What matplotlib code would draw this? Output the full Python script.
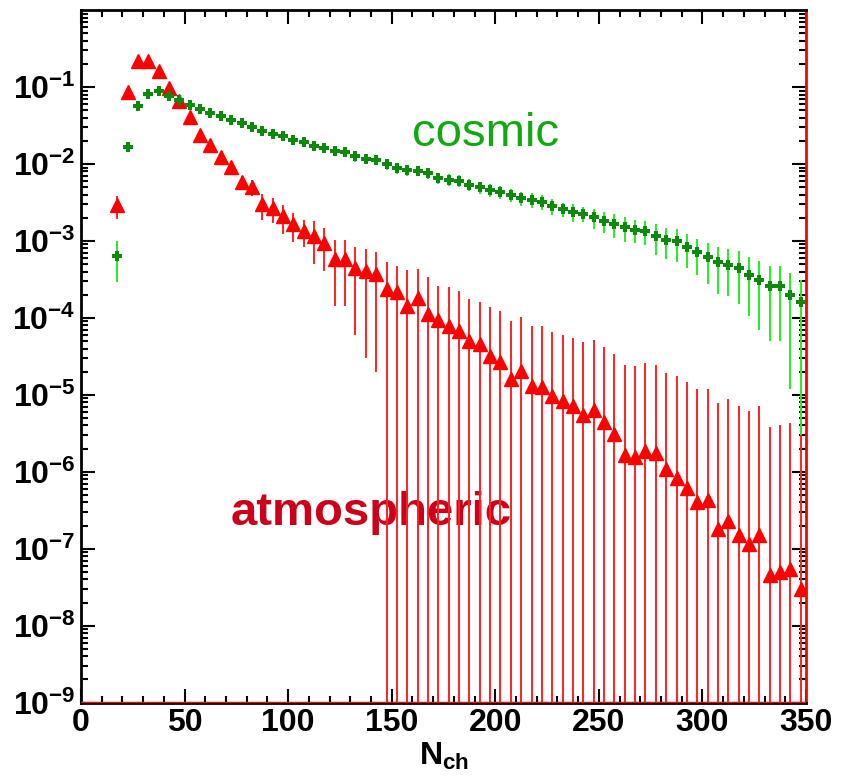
import numpy as np
import matplotlib
matplotlib.use("Agg")
import matplotlib.pyplot as plt
from matplotlib.ticker import FixedLocator, LogLocator, NullFormatter, MultipleLocator

# bin centres, 5 wide
nch = np.arange(17.5, 350, 5.0)

cosmic = [6.4e-4, 0.0166, 0.0566, 0.0818, 0.0877, 0.0764, 0.0673, 0.0588, 0.0522, 0.0462,
          0.0419, 0.0378, 0.0340, 0.0300, 0.0267, 0.0247, 0.0230, 0.0208, 0.0192, 0.0171,
          0.0162, 0.0147, 0.0143, 0.0126, 0.0117, 0.0113, 0.0100, 0.00889, 0.00837, 0.0082,
          0.00766, 0.00659, 0.00626, 0.00608, 0.00535, 0.00496, 0.00460, 0.00437, 0.0040, 0.00359,
          0.00341, 0.00324, 0.00287, 0.0026, 0.0024, 0.00224, 0.00203, 0.00183, 0.00166, 0.0015,
          0.0014, 0.00136, 0.00115, 0.00104, 9.9e-4, 8.4e-4, 7.1e-4, 6.1e-4, 5.26e-4, 4.9e-4,
          4.4e-4, 3.6e-4, 3.1e-4, 2.6e-4, 2.6e-4, 1.98e-4, 1.59e-4]
cosmic_err = [3.5e-4, 8e-4, 2.5e-3, 3.5e-3, 4e-3, 4e-3, 4e-3, 4e-3, 4e-3, 3.8e-3,
              3.6e-3, 3.4e-3, 3.2e-3, 3.0e-3, 2.9e-3, 2.8e-3, 2.7e-3, 2.6e-3, 2.5e-3, 2.3e-3,
              2.2e-3, 2.1e-3, 2.0e-3, 1.9e-3, 1.8e-3, 1.7e-3, 1.6e-3, 1.5e-3, 1.4e-3, 1.3e-3,
              1.25e-3, 1.15e-3, 1.1e-3, 1.05e-3, 0.95e-3, 0.88e-3, 0.85e-3, 0.82e-3, 0.8e-3, 0.78e-3,
              0.76e-3, 0.75e-3, 0.68e-3, 0.55e-3, 0.64e-3, 0.5e-3, 0.6e-3, 0.57e-3, 0.58e-3, 0.52e-3,
              0.45e-3, 0.47e-3, 0.5e-3, 0.45e-3, 0.45e-3, 0.4e-3, 0.35e-3, 0.33e-3, 0.32e-3, 0.3e-3,
              0.29e-3, 0.255e-3, 0.24e-3, 0.21e-3, 0.21e-3, 0.186e-3, 0.156e-3]

atmos = [2.9e-3, 0.086, 0.22, 0.22, 0.164, 0.097, 0.065, 0.041, 0.024, 0.0178,
         0.0123, 0.0091, 0.0058, 0.0050, 0.0030, 0.00266, 2.09e-3, 1.66e-3, 1.36e-3, 1.17e-3,
         9.4e-4, 5.8e-4, 5.8e-4, 4.5e-4, 4.1e-4, 3.7e-4, 2.4e-4, 2.14e-4, 1.43e-4, 1.81e-4,
         1.12e-4, 9.3e-5, 7.9e-5, 6.8e-5, 5.0e-5, 4.6e-5, 3.2e-5, 2.7e-5, 1.62e-5, 2.04e-5,
         1.30e-5, 1.28e-5, 9.6e-6, 8.3e-6, 7.1e-6, 5.5e-6, 6.3e-6, 4.5e-6, 3.06e-6, 1.63e-6,
         1.57e-6, 1.85e-6, 1.73e-6, 1.09e-6, 8.4e-7, 6.1e-7, 4.07e-7, 4.27e-7, 1.81e-7, 2.28e-7,
         1.49e-7, 1.16e-7, 1.53e-7, 4.5e-8, 5.0e-8, 5.5e-8, 3.0e-8]
atmos_err = [0.98e-3, 2e-3, 4e-3, 4e-3, 3.5e-3, 2.5e-3, 2e-3, 1.6e-3, 1.4e-3, 1.3e-3,
             1.2e-3, 1.1e-3, 1.1e-3, 1.2e-3, 1.1e-3, 0.93e-3, 0.85e-3, 0.68e-3, 0.52e-3, 0.67e-3,
             0.53e-3, 0.435e-3, 0.435e-3, 0.39e-3, 0.38e-3, 0.35e-3, 0.30e-3, 0.26e-3, 0.28e-3, 0.25e-3,
             0.224e-3, 0.168e-3, 0.17e-3, 0.157e-3, 0.125e-3, 0.117e-3, 0.106e-3, 0.096e-3, 0.075e-3, 0.081e-3,
             0.065e-3, 0.065e-3, 5.7e-5, 5.2e-5, 4.7e-5, 4.3e-5, 4.5e-5, 3.7e-5, 3.1e-5, 2.3e-5,
             2.2e-5, 2.4e-5, 2.27e-5, 1.8e-5, 1.65e-5, 1.43e-5, 1.16e-5, 1.16e-5, 7.7e-6, 8.5e-6,
             7.0e-6, 6.0e-6, 7.0e-6, 3.8e-6, 4.0e-6, 4.3e-6, 4.3e-6]

xticks = [0, 50, 100, 150, 200, 250, 300, 350]
ydecades = list(range(-9, 0))

plt.rcParams['font.family'] = ['Liberation Sans', 'DejaVu Sans']
plt.rcParams['mathtext.fontset'] = 'custom'
plt.rcParams['mathtext.rm'] = 'Liberation Sans:bold'
plt.rcParams['mathtext.it'] = 'Liberation Sans:bold'
plt.rcParams['mathtext.bf'] = 'Liberation Sans:bold'

fig = plt.figure(figsize=(8.48, 7.79), dpi=100)
ax = fig.add_axes([0.0955, 0.098, 0.855, 0.889])
ax.set_yscale('log', nonpositive='clip')

ax.text(72, 2.06e-7, 'atmospheric', color='#cc0018', fontsize=34, fontweight='bold',
        ha='left', va='baseline', zorder=1)
ax.text(159.7, 0.0174, 'cosmic', color='#10aa10', fontsize=34,
        ha='left', va='baseline', zorder=1)

ax.errorbar(nch, atmos, yerr=atmos_err, fmt='^', color='#ff0000', ecolor='#ff2020',
            markersize=10, elinewidth=1.4, capsize=0, zorder=3)
ax.errorbar(nch, cosmic, yerr=cosmic_err, fmt='P', color='#0b8a0b', ecolor='#22ee22',
            markersize=7, markeredgewidth=0, elinewidth=1.4, capsize=0, zorder=4)

ax.axhline(1e-9, color='#ff0000', lw=2.5, zorder=5)
ax.set_xlim(0, 350)
ax.set_ylim(1e-9, 1)

ax.xaxis.set_major_locator(FixedLocator(xticks))
ax.xaxis.set_minor_locator(MultipleLocator(10))
ax.set_xticklabels([str(t) for t in xticks])
ax.yaxis.set_major_locator(FixedLocator([10.0 ** d for d in ydecades]))
ax.set_yticklabels([r'$10^{%d}$' % d for d in ydecades])
ax.yaxis.set_minor_locator(LogLocator(base=10, subs=np.arange(2, 10), numticks=20))
ax.yaxis.set_minor_formatter(NullFormatter())

ax.tick_params(which='both', direction='in', top=True, right=True, width=1.5, colors='black')
ax.tick_params(which='major', length=10, labelsize=23, pad=4)
ax.tick_params(which='minor', length=5)
for lab in ax.get_xticklabels():
    lab.set_fontweight('bold')

for side in ['left', 'top', 'bottom']:
    ax.spines[side].set_linewidth(2)
ax.spines['right'].set_linewidth(2)
ax.spines['right'].set_color('#ff0000')

ax.set_xlabel(r'$N_{ch}$', fontsize=23, labelpad=2)

fig.savefig('out.png', dpi=100)
